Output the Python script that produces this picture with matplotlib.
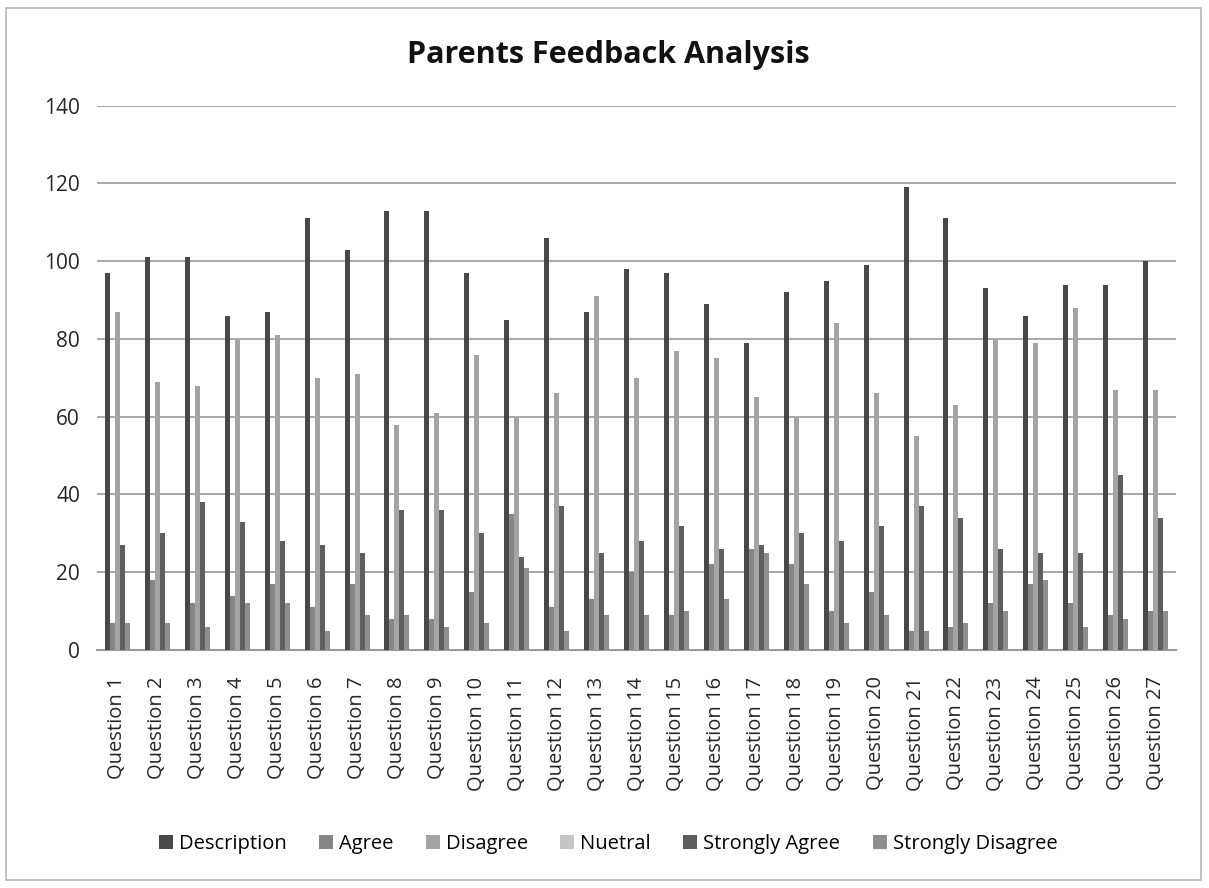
import matplotlib
matplotlib.use("Agg")
import matplotlib.pyplot as plt
import numpy as np
from matplotlib.patches import Patch, Rectangle

questions = ["Question 1", "Question 2", "Question 3", "Question 4", "Question 5",
             "Question 6", "Question 7", "Question 8", "Question 9", "Question 10",
             "Question 11", "Question 12", "Question 13", "Question 14", "Question 15",
             "Question 16", "Question 17", "Question 18", "Question 19", "Question 20",
             "Question 21", "Question 22", "Question 23", "Question 24", "Question 25",
             "Question 26", "Question 27"]

description = [97, 101, 101, 86, 87, 111, 103, 113, 113, 97, 85, 106, 87, 98, 97,
               89, 79, 92, 95, 99, 119, 111, 93, 86, 94, 94, 100]
agree = [7, 18, 12, 14, 17, 11, 17, 8, 8, 15, 35, 11, 13, 20, 9,
         22, 26, 22, 10, 15, 5, 6, 12, 17, 12, 9, 10]
disagree = [87, 69, 68, 80, 81, 70, 71, 58, 61, 76, 60, 66, 91, 70, 77,
            75, 65, 60, 84, 66, 55, 63, 80, 79, 88, 67, 67]
nuetral = [0, 0, 0, 0, 0, 0, 0, 0, 0, 0, 0, 0, 0, 0, 0,
           0, 0, 0, 0, 0, 0, 0, 0, 0, 0, 0, 0]
strongly_agree = [27, 30, 38, 33, 28, 27, 25, 36, 36, 30, 24, 37, 25, 28, 32,
                  26, 27, 30, 28, 32, 37, 34, 26, 25, 25, 45, 34]
strongly_disagree = [7, 7, 6, 12, 12, 5, 9, 9, 6, 7, 21, 5, 9, 9, 10,
                     13, 25, 17, 7, 9, 5, 7, 10, 18, 6, 8, 10]

series_names = ["Description", "Agree", "Disagree", "Nuetral",
                "Strongly Agree", "Strongly Disagree"]
series_values = [description, agree, disagree, nuetral,
                 strongly_agree, strongly_disagree]
series_colors = ["#484848", "#868686", "#a4a4a4", "#c6c6c6", "#5f5f5f", "#8e8e8e"]

FONT = "Open Sans"
plt.rcParams["font.family"] = [FONT, "DejaVu Sans"]

fig = plt.figure(figsize=(12.09, 8.88), dpi=100)
ax = fig.add_axes([0.080, 0.268, 0.893, 0.613])

x = np.arange(len(questions))
# only series with visible values take a slot in each group
drawn = [i for i, vals in enumerate(series_values) if any(v > 0 for v in vals)]
bar_w = 0.125
n = len(drawn)
handles = []
for k, i in enumerate(drawn):
    off = (k - (n - 1) / 2) * bar_w
    ax.bar(x + off, series_values[i], width=bar_w, color=series_colors[i],
           linewidth=0, zorder=3)
for i, name in enumerate(series_names):
    handles.append(Patch(facecolor=series_colors[i], edgecolor="none", label=name))

ax.set_ylim(0, 140)
ax.set_yticks(np.arange(0, 141, 20))
ax.set_xlim(-0.52, 26.52)
ax.set_xticks(x)
ax.set_xticklabels(questions, rotation=90, fontsize=14.5, color="#262626")
ax.tick_params(axis="x", length=0, pad=19)
ax.tick_params(axis="y", length=0, pad=12, labelsize=15, labelcolor="#262626")
ax.yaxis.grid(True, color="#a8a8a8", linewidth=1.4, zorder=0)
ax.set_axisbelow(True)
for s in ["left", "top", "right"]:
    ax.spines[s].set_visible(False)
ax.spines["bottom"].set_color("#9a9a9a")
ax.spines["bottom"].set_linewidth(1.5)

fig.text(0.503, 1 - 55 / 888, "Parents Feedback Analysis", ha="center",
         va="center", fontsize=22, fontweight="bold", color="#111111")

fig.legend(handles=handles, loc="center", bbox_to_anchor=(0.503, 1 - 844 / 888),
           ncol=6, frameon=False, fontsize=14.5, handlelength=0.7,
           handleheight=0.7, handletextpad=0.3, columnspacing=1.6)

fig.patches.append(Rectangle((0.005, 0.009), 0.988, 0.982, transform=fig.transFigure,
                             fill=False, edgecolor="#b5b5b5", linewidth=1.2))

fig.savefig("out.png", dpi=100)
